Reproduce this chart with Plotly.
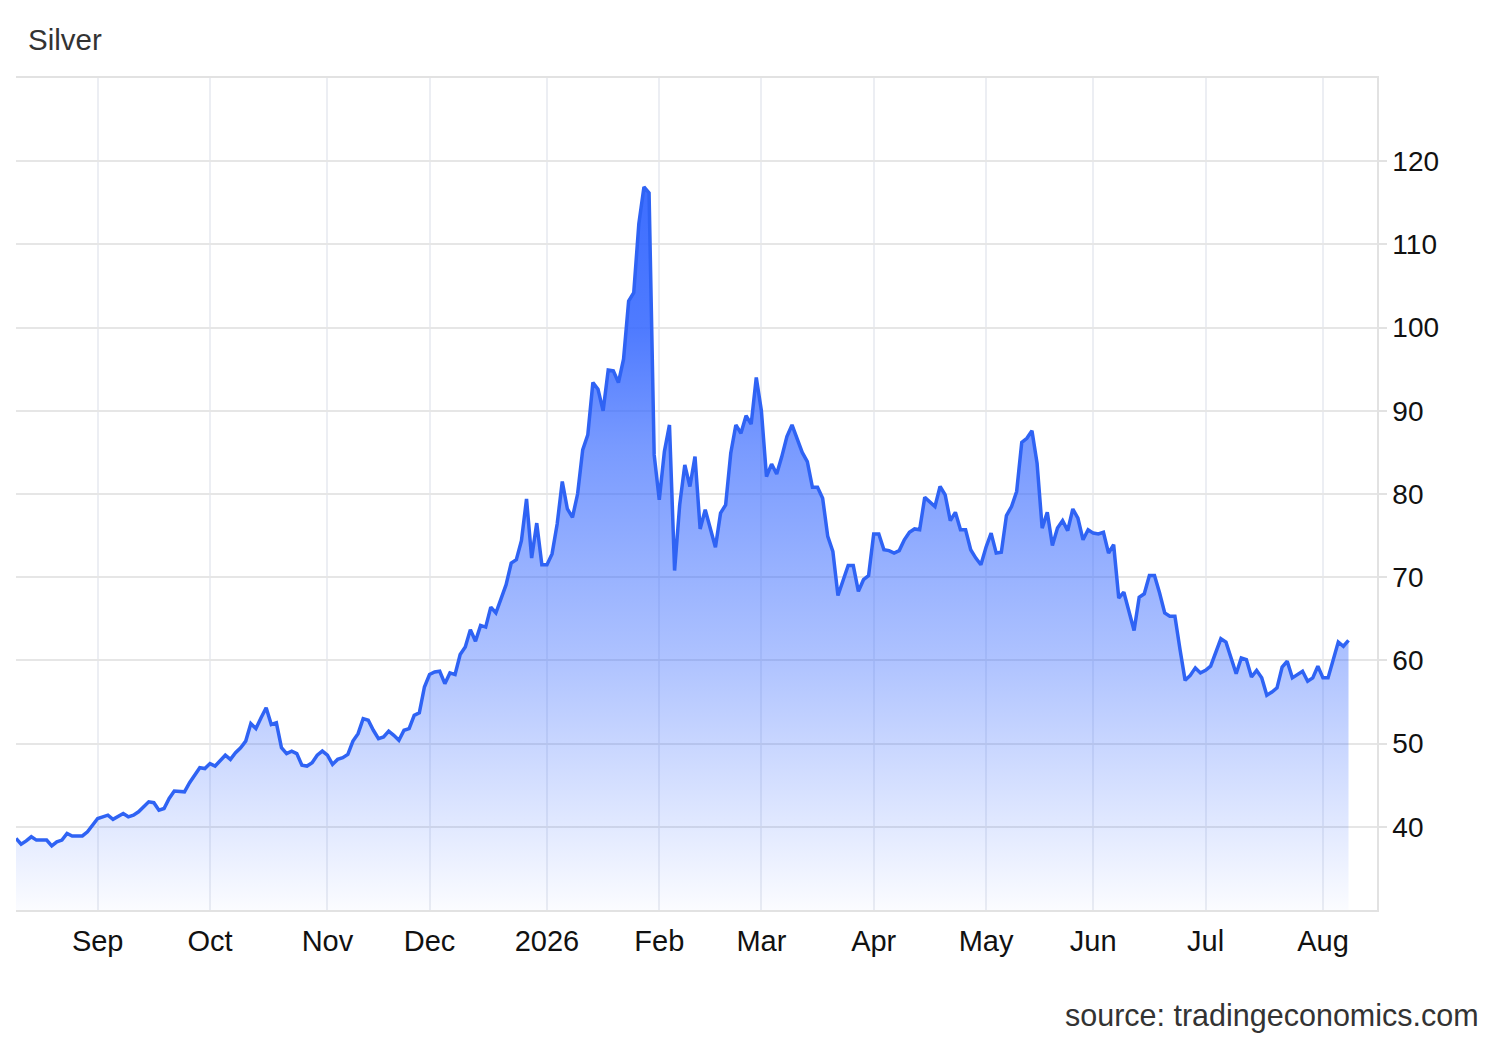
import pandas as pd
import plotly.graph_objects as go

# ---- data (business-day closes) ----
start_date = "2025-08-08"
silver_prices = [
    38.6, 37.9, 38.3, 38.8, 38.4, 38.4, 38.4, 37.7, 38.2, 38.4,
    39.2, 38.9, 38.9, 38.9, 39.4, 40.2, 41.0, 41.2, 41.4, 40.9,
    41.2, 41.6, 41.2, 41.4, 41.8, 42.4, 43.0, 42.9, 42.0, 42.2,
    43.4, 44.3, 44.3, 44.2, 45.3, 46.3, 47.1, 47.0, 47.6, 47.3,
    47.9, 48.6, 48.1, 48.9, 49.5, 50.3, 52.4, 51.8, 53.1, 54.3,
    52.3, 52.5, 49.5, 48.8, 49.1, 48.8, 47.4, 47.3, 47.7, 48.6,
    49.1, 48.6, 47.5, 48.1, 48.3, 48.7, 50.3, 51.2, 53.0, 52.8,
    51.6, 50.6, 50.8, 51.5, 51.0, 50.4, 51.6, 51.8, 53.4, 53.7,
    56.8, 58.3, 58.6, 58.7, 57.2, 58.5, 58.3, 60.7, 61.6, 63.7,
    62.3, 64.2, 64.0, 66.4, 65.7, 67.3, 69.1, 71.7, 72.1, 74.4,
    79.4, 72.3, 76.5, 71.5, 71.5, 72.8, 76.4, 81.5, 78.2, 77.2,
    80.0, 85.3, 87.1, 93.4, 92.6, 90.0, 94.9, 94.8, 93.4, 96.2,
    103.2, 104.2, 112.5, 116.9, 116.2, 84.7, 79.3, 85.1, 88.3, 70.8,
    78.7, 83.5, 80.9, 84.5, 75.8, 78.1, 75.8, 73.6, 77.7, 78.7,
    84.9, 88.3, 87.3, 89.4, 88.4, 94.0, 90.0, 82.1, 83.6, 82.4,
    84.5, 86.9, 88.3, 86.5, 85.0, 83.9, 80.8, 80.8, 79.5, 74.9,
    73.1, 67.8, 69.5, 71.4, 71.4, 68.3, 69.7, 70.2, 75.2, 75.2,
    73.3, 73.2, 72.9, 73.2, 74.5, 75.4, 75.8, 75.7, 79.6, 79.0,
    78.5, 80.9, 79.9, 76.8, 77.8, 75.7, 75.7, 73.3, 72.3, 71.5,
    73.6, 75.3, 72.9, 73.0, 77.4, 78.5, 80.3, 86.2, 86.7, 87.6,
    83.7, 75.9, 77.8, 73.8, 75.9, 76.8, 75.6, 78.2, 77.1, 74.5,
    75.7, 75.3, 75.2, 75.4, 72.9, 73.9, 67.5, 68.2, 65.9, 63.6,
    67.6, 68.0, 70.2, 70.2, 68.1, 65.7, 65.3, 65.3, 61.3, 57.6,
    58.2, 59.1, 58.5, 58.8, 59.3, 61.1, 62.6, 62.2, 60.4, 58.4,
    60.3, 60.1, 58.0, 58.8, 57.9, 55.8, 56.2, 56.7, 59.2, 59.9,
    57.9, 58.3, 58.7, 57.5, 57.9, 59.3, 57.9, 57.9, 59.9, 62.2,
    61.7, 62.4,
]
dates = pd.bdate_range(start=start_date, periods=len(silver_prices))

tick_dates = ["2025-09-01", "2025-10-01", "2025-11-03", "2025-12-01",
              "2026-01-01", "2026-02-02", "2026-03-02", "2026-04-01",
              "2026-05-01", "2026-06-01", "2026-07-01", "2026-08-03"]
tick_labels = ["Sep", "Oct", "Nov", "Dec", "2026", "Feb", "Mar", "Apr",
               "May", "Jun", "Jul", "Aug"]
y_ticks = [40, 50, 60, 70, 80, 90, 100, 110, 120]
x_range = ["2025-08-08", "2026-08-17 14:00"]
y_range = [30, 130]

FONT = "Liberation Sans, Arial, Helvetica, sans-serif"
W, H = 1492, 1032  # page has an 8px body margin

fig = go.Figure()
fig.add_trace(go.Scatter(
    x=dates, y=silver_prices, mode="lines",
    line=dict(color="#2f63f4", width=3.5),
    fill="tozeroy",
    fillgradient=dict(
        type="vertical", start=30, stop=117,
        colorscale=[
            [0.0, "rgba(51,102,255,0.02)"],
            [0.12, "rgba(51,102,255,0.15)"],
            [0.35, "rgba(51,102,255,0.40)"],
            [0.64, "rgba(51,102,255,0.66)"],
            [0.80, "rgba(51,102,255,0.86)"],
            [1.0, "rgba(51,102,255,0.95)"],
        ],
    ),
    hoverinfo="skip",
))

fig.update_layout(
    width=W, height=H,
    margin=dict(l=8, r=123, t=70, b=130),
    paper_bgcolor="white", plot_bgcolor="white",
    showlegend=False,
    font=dict(family=FONT),
    title=dict(text="Silver", x=20 / W, xanchor="left",
               y=1 - 32 / H, yanchor="middle",
               font=dict(size=29.5, color="#333333", family=FONT)),
)
fig.update_xaxes(
    type="date", range=x_range,
    rangebreaks=[dict(bounds=["sat", "mon"])],
    tickmode="array", tickvals=tick_dates, ticktext=tick_labels,
    showgrid=True, gridcolor="#eceef3", gridwidth=1.5,
    showline=True, linecolor="#e2e2e2", linewidth=1.5, mirror=True,
    ticks="", tickfont=dict(size=29, color="#111111", family=FONT),
    ticklabelstandoff=4, zeroline=False,
)
fig.update_yaxes(
    side="right", range=y_range,
    tickmode="array", tickvals=y_ticks,
    showgrid=True, gridcolor="#e6e6e6", gridwidth=1.5,
    showline=True, linecolor="#e2e2e2", linewidth=1.5,
    ticks="outside", ticklen=8, tickcolor="#e2e2e2", tickwidth=1.5,
    tickfont=dict(size=28, color="#111111", family=FONT),
    zeroline=False,
)
fig.add_annotation(
    text="source: tradingeconomics.com",
    xref="paper", yref="paper",
    x=(1473 - 8) / 1361, y=-(1015 - 910) / 832,
    xanchor="right", yanchor="middle", showarrow=False,
    font=dict(size=30.5, color="#333333", family=FONT),
)

fig.write_html("out.html")
